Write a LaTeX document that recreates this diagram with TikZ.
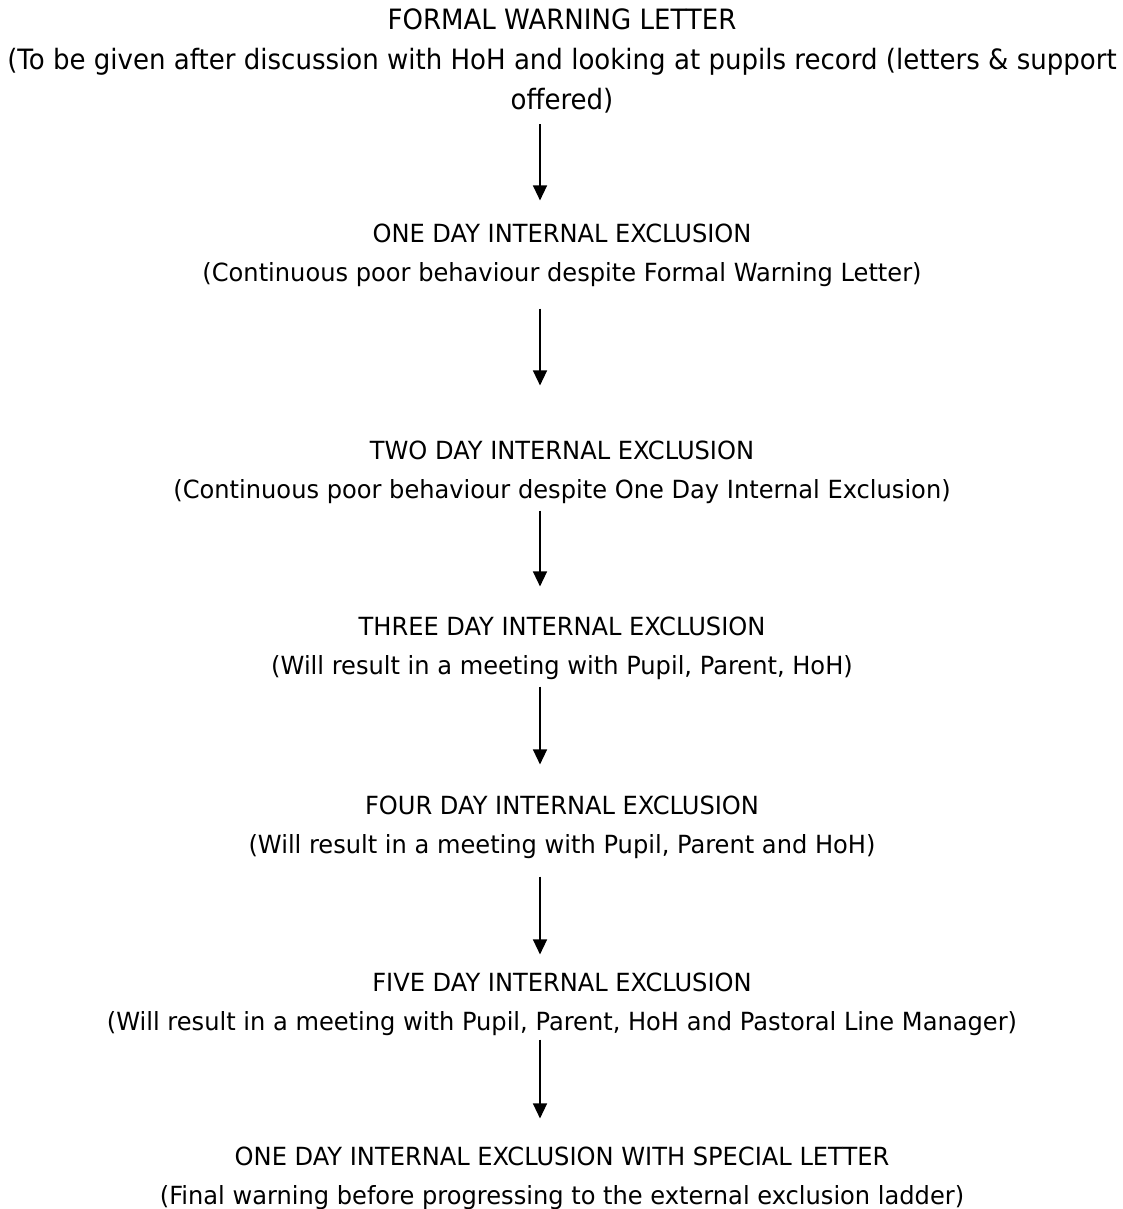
\documentclass[tikz,border=0pt]{standalone}
\usepackage{fontspec}
\setmainfont{DejaVu Sans}[FakeStretch=0.93]
\newfontfamily\stagefam{DejaVu Sans}[FakeStretch=0.965]
\usetikzlibrary{arrows.meta}
\begin{document}
\begin{tikzpicture}[x=1pt,y=-1pt,
  top/.style={align=center,inner sep=0pt,font=\fontsize{28}{40}\selectfont},
  stage/.style={align=center,inner sep=0pt,font=\stagefam\fontsize{25}{39}\selectfont},
  arr/.style={line width=1.4pt,-{Triangle[width=14pt,length=15pt]}}]
\useasboundingbox (0,0) rectangle (1123,1209);
\node[top] (n1) at (562,61) {FORMAL WARNING LETTER\\(To be given after discussion with HoH and looking at pupils record (letters \& support\\offered)};
\node[stage] (n2) at (562,255) {ONE DAY INTERNAL EXCLUSION\\(Continuous poor behaviour despite Formal Warning Letter)};
\node[stage] (n3) at (562,472) {TWO DAY INTERNAL EXCLUSION\\(Continuous poor behaviour despite One Day Internal Exclusion)};
\node[stage] (n4) at (562,648) {THREE DAY INTERNAL EXCLUSION\\(Will result in a meeting with Pupil, Parent, HoH)};
\node[stage] (n5) at (562,827) {FOUR DAY INTERNAL EXCLUSION\\(Will result in a meeting with Pupil, Parent and HoH)};
\node[stage] (n6) at (562,1004) {FIVE DAY INTERNAL EXCLUSION\\(Will result in a meeting with Pupil, Parent, HoH and Pastoral Line Manager)};
\node[stage] (n7) at (562,1178) {ONE DAY INTERNAL EXCLUSION WITH SPECIAL LETTER\\(Final warning before progressing to the external exclusion ladder)};
\draw[arr,shorten <=11pt,shorten >=23pt] ([xshift=-22pt]n1.south) -- ([xshift=-22pt]n2.north);
\draw[arr,shorten <=22pt,shorten >=55pt] ([xshift=-22pt]n2.south) -- ([xshift=-22pt]n3.north);
\draw[arr,shorten <=7pt,shorten >=30pt] ([xshift=-22pt]n3.south) -- ([xshift=-22pt]n4.north);
\draw[arr,shorten <=7pt,shorten >=31pt] ([xshift=-22pt]n4.south) -- ([xshift=-22pt]n5.north);
\draw[arr,shorten <=18pt,shorten >=18pt] ([xshift=-22pt]n5.south) -- ([xshift=-22pt]n6.north);
\draw[arr,shorten <=4pt,shorten >=28pt] ([xshift=-22pt]n6.south) -- ([xshift=-22pt]n7.north);
\end{tikzpicture}
\end{document}
